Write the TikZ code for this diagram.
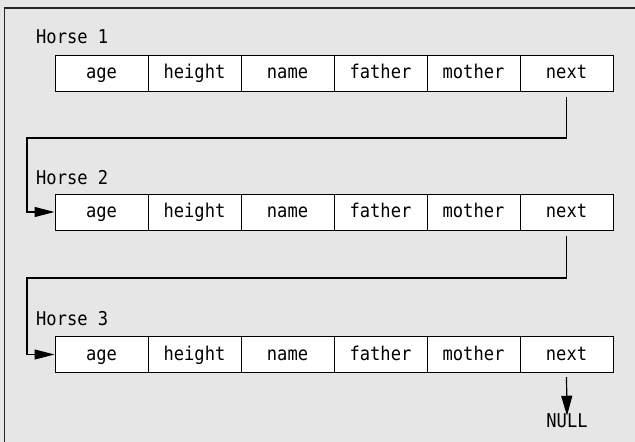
\documentclass[tikz,border=0pt]{standalone}
\usepackage{fontspec}
\setmonofont[FakeStretch=0.9]{DejaVu Sans Mono}
\usetikzlibrary{arrows.meta}
\definecolor{bg}{HTML}{E6E6E6}
\begin{document}
\begin{tikzpicture}[x=1pt,y=-1pt,
  cell/.style={draw=black, fill=white, line width=1pt, minimum width=93pt, minimum height=36pt, inner sep=0pt, text height=13pt, text depth=2pt, font=\ttfamily\fontsize{19}{21}\selectfont},
  lbl/.style={anchor=west, inner sep=0pt, font=\ttfamily\fontsize{19}{21}\selectfont},
  link/.style={line width=1.2pt, -{Triangle[length=20pt,width=10pt]}},
  nullarrow/.style={line width=1.2pt, -{Triangle[length=20pt,width=11pt]}}]
\useasboundingbox (0,0) rectangle (635,442);
\fill[bg] (0,0) rectangle (635,442);
\draw[line width=1.2pt, black!85] (4.5,445) -- (4.5,8) -- (640,8);
% rows
\foreach \r/\y in {1/73,2/212,3/354.5}{
  \foreach \i/\t in {1/age,2/height,3/name,4/father,5/mother,6/next}{
    \node[cell] (h\r c\i) at ({55+93*(\i-1)+46.5},\y) {\t};
  }
}
\node[lbl] (lab1) at (36,37) {Horse 1};
\node[lbl] (lab2) at (36,178) {Horse 2};
\node[lbl] (lab3) at (36,319) {Horse 3};
% connectors
\coordinate (s1) at ([yshift=-5pt]h1c6.south);
\coordinate (b1) at (27,138);
\draw[link] (s1) |- (b1) |- (h2c1.west);
\coordinate (s2) at ([yshift=-5pt]h2c6.south);
\coordinate (b2) at (27,278);
\draw[link] (s2) |- (b2) |- (h3c1.west);
\coordinate (s3) at ([yshift=-4pt]h3c6.south);
\node[lbl, anchor=center] (null) at (567,421) {NULL};
\draw[nullarrow] (s3) -- ([yshift=-2pt]null.north);
\end{tikzpicture}
\end{document}
